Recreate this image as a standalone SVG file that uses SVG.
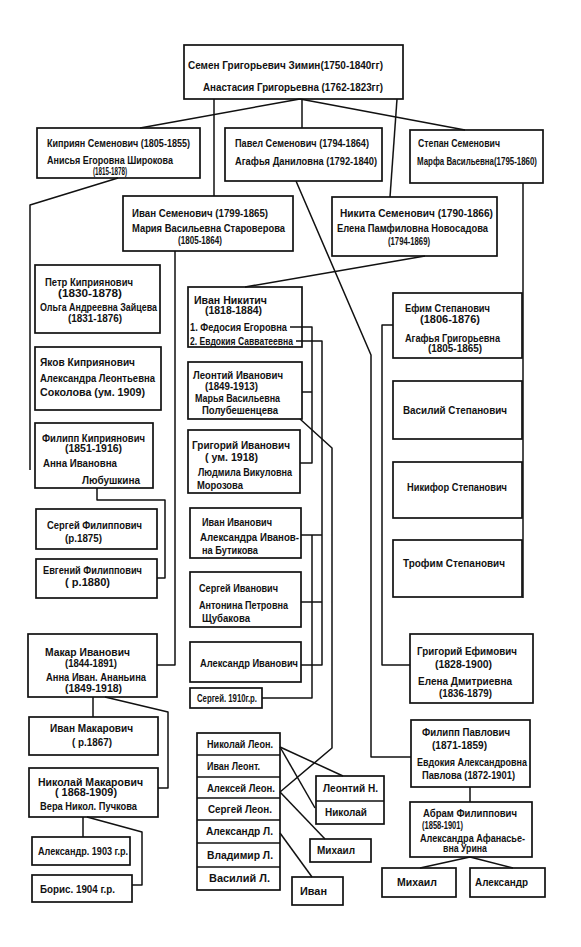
<svg xmlns="http://www.w3.org/2000/svg" width="581" height="947" viewBox="0 0 581 947">
<style>
.b{fill:none;stroke:#111;stroke-width:1.7}
.c{fill:none;stroke:#111;stroke-width:1.5;stroke-linejoin:round}
text{font-family:"Liberation Sans",Arial,sans-serif;font-weight:bold;font-size:10px;fill:#111}
.big{font-size:11px}
</style>
<rect x="0" y="0" width="581" height="947" fill="#fff"/>
<g id="connectors">
<polyline class="c" points="300,99 140,128"/>
<polyline class="c" points="214,99 214,196"/>
<polyline class="c" points="302,99 302,128"/>
<polyline class="c" points="397,99 390,197"/>
<polyline class="c" points="300,99 465,130"/>
<polyline class="c" points="118,178 30,205 30,470"/>
<polyline class="c" points="175,251 175,665 157,665"/>
<polyline class="c" points="97,488 97,500 165,500 165,578 157,578"/>
<polyline class="c" points="93,697 93,717"/>
<polyline class="c" points="105,697 168,712 168,788 158,788"/>
<polyline class="c" points="83,817 83,837"/>
<polyline class="c" points="87,817 142,832 142,885 132,885"/>
<polyline class="c" points="425,256 245,287"/>
<polyline class="c" points="296,181 371,355 371,757 411,757"/>
<polyline class="c" points="523,183 523,598"/>
<polyline class="c" points="393,325 382,325 382,665 410,665"/>
<polyline class="c" points="290,327 312,327 312,463 300,463"/>
<polyline class="c" points="302,392 312,392"/>
<polyline class="c" points="296,341 322,341 322,665 301,665"/>
<polyline class="c" points="301,535 322,535"/>
<polyline class="c" points="301,602 322,602"/>
<polyline class="c" points="312,535 312,698 262,698"/>
<polyline class="c" points="300,419 332,448 332,748 280,792"/>
<polyline class="c" points="280,747 343,776"/>
<polyline class="c" points="280,747 315,808"/>
<polyline class="c" points="280,792 325,839"/>
<polyline class="c" points="280,833 312,877"/>
<polyline class="c" points="470,787 470,802"/>
<polyline class="c" points="470,857 420,868"/>
<polyline class="c" points="470,857 513,868"/>
</g>
<g id="n-semen">
<rect class="b" x="184" y="45" width="219" height="54"/>
<text class="big" x="188" y="69" textLength="195" lengthAdjust="spacingAndGlyphs">Семен Григорьевич Зимин(1750-1840гг)</text>
<text class="big" x="203" y="91" textLength="180" lengthAdjust="spacingAndGlyphs">Анастасия Григорьевна (1762-1823гг)</text>
</g>
<g id="n-kipriyan">
<rect class="b" x="37" y="128" width="163" height="50"/>
<text x="47" y="147" textLength="143" lengthAdjust="spacingAndGlyphs">Киприян Семенович (1805-1855)</text>
<text x="47" y="164" textLength="126" lengthAdjust="spacingAndGlyphs">Анисья Егоровна Широкова</text>
<text x="93" y="175" textLength="34" lengthAdjust="spacingAndGlyphs">(1815-1878)</text>
</g>
<g id="n-pavel">
<rect class="b" x="225" y="128" width="157" height="53"/>
<text x="235" y="147" textLength="134" lengthAdjust="spacingAndGlyphs">Павел Семенович (1794-1864)</text>
<text x="235" y="165" textLength="142" lengthAdjust="spacingAndGlyphs">Агафья Даниловна (1792-1840)</text>
</g>
<g id="n-stepan">
<rect class="b" x="410" y="130" width="133" height="53"/>
<text x="418" y="147" textLength="82" lengthAdjust="spacingAndGlyphs">Степан Семенович</text>
<text x="417" y="165" textLength="120" lengthAdjust="spacingAndGlyphs">Марфа Васильевна(1795-1860)</text>
</g>
<g id="n-ivan-sem">
<rect class="b" x="123" y="196" width="170" height="55"/>
<text x="132" y="217" textLength="136" lengthAdjust="spacingAndGlyphs">Иван Семенович (1799-1865)</text>
<text x="132" y="232" textLength="153" lengthAdjust="spacingAndGlyphs">Мария Васильевна Староверова</text>
<text x="178" y="244" textLength="44" lengthAdjust="spacingAndGlyphs">(1805-1864)</text>
</g>
<g id="n-nikita">
<rect class="b" x="332" y="197" width="165" height="59"/>
<text x="340" y="217" textLength="153" lengthAdjust="spacingAndGlyphs">Никита Семенович (1790-1866)</text>
<text x="337" y="232" textLength="151" lengthAdjust="spacingAndGlyphs">Елена Памфиловна Новосадова</text>
<text x="388" y="245" textLength="42" lengthAdjust="spacingAndGlyphs">(1794-1869)</text>
</g>
<g id="n-petr">
<rect class="b" x="35" y="265" width="125" height="68"/>
<text x="45" y="286" textLength="88" lengthAdjust="spacingAndGlyphs">Петр Киприянович</text>
<text x="58" y="297" textLength="64" lengthAdjust="spacingAndGlyphs">(1830-1878)</text>
<text x="40" y="311" textLength="117" lengthAdjust="spacingAndGlyphs">Ольга Андреевна Зайцева</text>
<text x="68" y="322" textLength="54" lengthAdjust="spacingAndGlyphs">(1831-1876)</text>
</g>
<g id="n-yakov">
<rect class="b" x="35" y="347" width="126" height="63"/>
<text x="40" y="366" textLength="95" lengthAdjust="spacingAndGlyphs">Яков Киприянович</text>
<text x="40" y="382" textLength="115" lengthAdjust="spacingAndGlyphs">Александра Леонтьевна</text>
<text x="40" y="396" textLength="105" lengthAdjust="spacingAndGlyphs">Соколова (ум. 1909)</text>
</g>
<g id="n-filipp-k">
<rect class="b" x="35" y="423" width="118" height="65"/>
<text x="42" y="442" textLength="103" lengthAdjust="spacingAndGlyphs">Филипп Киприянович</text>
<text x="65" y="452" textLength="57" lengthAdjust="spacingAndGlyphs">(1851-1916)</text>
<text x="43" y="467" textLength="74" lengthAdjust="spacingAndGlyphs">Анна Ивановна</text>
<text x="82" y="484" textLength="58" lengthAdjust="spacingAndGlyphs">Любушкина</text>
</g>
<g id="n-sergei-f">
<rect class="b" x="36" y="509" width="121" height="40"/>
<text x="47" y="529" textLength="95" lengthAdjust="spacingAndGlyphs">Сергей Филиппович</text>
<text x="65" y="542" textLength="37" lengthAdjust="spacingAndGlyphs">(р.1875)</text>
</g>
<g id="n-evgeny">
<rect class="b" x="36" y="559" width="121" height="39"/>
<text x="43" y="574" textLength="99" lengthAdjust="spacingAndGlyphs">Евгений Филиппович</text>
<text x="65" y="586" textLength="45" lengthAdjust="spacingAndGlyphs">( р.1880)</text>
</g>
<g id="n-makar">
<rect class="b" x="28" y="634" width="129" height="63"/>
<text x="45" y="656" textLength="85" lengthAdjust="spacingAndGlyphs">Макар Иванович</text>
<text x="65" y="667" textLength="52" lengthAdjust="spacingAndGlyphs">(1844-1891)</text>
<text x="46" y="681" textLength="100" lengthAdjust="spacingAndGlyphs">Анна Иван. Ананьина</text>
<text x="65" y="692" textLength="57" lengthAdjust="spacingAndGlyphs">(1849-1918)</text>
</g>
<g id="n-ivan-mak">
<rect class="b" x="29" y="717" width="129" height="38"/>
<text x="50" y="732" textLength="83" lengthAdjust="spacingAndGlyphs">Иван Макарович</text>
<text x="72" y="746" textLength="40" lengthAdjust="spacingAndGlyphs">( р.1867)</text>
</g>
<g id="n-nikolai-mak">
<rect class="b" x="29" y="768" width="129" height="49"/>
<text x="38" y="786" textLength="105" lengthAdjust="spacingAndGlyphs">Николай Макарович</text>
<text x="55" y="796" textLength="62" lengthAdjust="spacingAndGlyphs">( 1868-1909)</text>
<text x="40" y="810" textLength="97" lengthAdjust="spacingAndGlyphs">Вера Никол. Пучкова</text>
</g>
<g id="n-aleksandr-1903">
<rect class="b" x="32" y="837" width="98" height="28"/>
<text x="38" y="855" textLength="90" lengthAdjust="spacingAndGlyphs">Александр. 1903 г.р.</text>
</g>
<g id="n-boris">
<rect class="b" x="32" y="875" width="100" height="27"/>
<text x="40" y="893" textLength="75" lengthAdjust="spacingAndGlyphs">Борис. 1904 г.р.</text>
</g>
<g id="n-ivan-nik">
<rect class="b" x="188" y="287" width="114" height="60"/>
<text x="194" y="304" textLength="73" lengthAdjust="spacingAndGlyphs">Иван Никитич</text>
<text x="205" y="314" textLength="57" lengthAdjust="spacingAndGlyphs">(1818-1884)</text>
<text x="190" y="331" textLength="97" lengthAdjust="spacingAndGlyphs">1. Федосия Егоровна</text>
<text x="190" y="345" textLength="103" lengthAdjust="spacingAndGlyphs">2. Евдокия Савватеевна</text>
</g>
<g id="n-leontiy">
<rect class="b" x="188" y="362" width="114" height="57"/>
<text x="193" y="379" textLength="90" lengthAdjust="spacingAndGlyphs">Леонтий Иванович</text>
<text x="205" y="390" textLength="53" lengthAdjust="spacingAndGlyphs">(1849-1913)</text>
<text x="195" y="402" textLength="85" lengthAdjust="spacingAndGlyphs">Марья Васильевна</text>
<text x="202" y="414" textLength="76" lengthAdjust="spacingAndGlyphs">Полубешенцева</text>
</g>
<g id="n-grigory-iv">
<rect class="b" x="188" y="430" width="112" height="63"/>
<text x="192" y="449" textLength="98" lengthAdjust="spacingAndGlyphs">Григорий Иванович</text>
<text x="205" y="461" textLength="53" lengthAdjust="spacingAndGlyphs">( ум. 1918)</text>
<text x="198" y="476" textLength="94" lengthAdjust="spacingAndGlyphs">Людмила Викуловна</text>
<text x="197" y="489" textLength="46" lengthAdjust="spacingAndGlyphs">Морозова</text>
</g>
<g id="n-ivan-iv">
<rect class="b" x="190" y="508" width="111" height="50"/>
<text x="202" y="526" textLength="70" lengthAdjust="spacingAndGlyphs">Иван Иванович</text>
<text x="200" y="541" textLength="99" lengthAdjust="spacingAndGlyphs">Александра Иванов-</text>
<text x="202" y="554" textLength="56" lengthAdjust="spacingAndGlyphs">на Бутикова</text>
</g>
<g id="n-sergei-iv">
<rect class="b" x="190" y="572" width="111" height="55"/>
<text x="199" y="592" textLength="79" lengthAdjust="spacingAndGlyphs">Сергей Иванович</text>
<text x="199" y="609" textLength="89" lengthAdjust="spacingAndGlyphs">Антонина Петровна</text>
<text x="202" y="622" textLength="48" lengthAdjust="spacingAndGlyphs">Щубакова</text>
</g>
<g id="n-aleksandr-iv">
<rect class="b" x="190" y="642" width="111" height="40"/>
<text x="200" y="667" textLength="98" lengthAdjust="spacingAndGlyphs">Александр Иванович</text>
</g>
<g id="n-sergei-1910">
<rect class="b" x="190" y="688" width="72" height="20"/>
<text x="197" y="702" textLength="60" lengthAdjust="spacingAndGlyphs">Сергей. 1910г.р.</text>
</g>
<g id="n-leontiy-children">
<rect class="b" x="197" y="733" width="83" height="157"/>
<polyline class="b" points="197,755 280,755"/>
<polyline class="b" points="197,777 280,777"/>
<polyline class="b" points="197,798 280,798"/>
<polyline class="b" points="197,820 280,820"/>
<polyline class="b" points="197,843 280,843"/>
<polyline class="b" points="197,867 280,867"/>
<text x="207" y="748" textLength="66" lengthAdjust="spacingAndGlyphs">Николай Леон.</text>
<text x="207" y="770" textLength="53" lengthAdjust="spacingAndGlyphs">Иван Леонт.</text>
<text x="207" y="792" textLength="68" lengthAdjust="spacingAndGlyphs">Алексей Леон.</text>
<text x="208" y="813" textLength="64" lengthAdjust="spacingAndGlyphs">Сергей Леон.</text>
<text x="206" y="835" textLength="67" lengthAdjust="spacingAndGlyphs">Александр Л.</text>
<text x="207" y="859" textLength="66" lengthAdjust="spacingAndGlyphs">Владимир Л.</text>
<text x="209" y="882" textLength="61" lengthAdjust="spacingAndGlyphs">Василий Л.</text>
</g>
<g id="n-leontiy-n">
<rect class="b" x="316" y="776" width="68" height="48"/>
<polyline class="b" points="316,801 384,801"/>
<text x="323" y="792" textLength="55" lengthAdjust="spacingAndGlyphs">Леонтий Н.</text>
<text x="325" y="816" textLength="42" lengthAdjust="spacingAndGlyphs">Николай</text>
</g>
<g id="n-mikhail-l">
<rect class="b" x="310" y="839" width="61" height="23"/>
<text x="317" y="854" textLength="38" lengthAdjust="spacingAndGlyphs">Михаил</text>
</g>
<g id="n-ivan-l">
<rect class="b" x="292" y="877" width="51" height="28"/>
<text x="300" y="895" textLength="27" lengthAdjust="spacingAndGlyphs">Иван</text>
</g>
<g id="n-efim">
<rect class="b" x="393" y="293" width="129" height="65"/>
<text x="405" y="312" textLength="85" lengthAdjust="spacingAndGlyphs">Ефим Степанович</text>
<text x="420" y="323" textLength="60" lengthAdjust="spacingAndGlyphs">(1806-1876)</text>
<text x="405" y="342" textLength="95" lengthAdjust="spacingAndGlyphs">Агафья Григорьевна</text>
<text x="428" y="352" textLength="54" lengthAdjust="spacingAndGlyphs">(1805-1865)</text>
</g>
<g id="n-vasily">
<rect class="b" x="393" y="381" width="129" height="58"/>
<text x="403" y="414" textLength="104" lengthAdjust="spacingAndGlyphs">Василий Степанович</text>
</g>
<g id="n-nikifor">
<rect class="b" x="393" y="462" width="129" height="56"/>
<text x="407" y="491" textLength="100" lengthAdjust="spacingAndGlyphs">Никифор Степанович</text>
</g>
<g id="n-trofim">
<rect class="b" x="393" y="540" width="129" height="57"/>
<text x="403" y="567" textLength="102" lengthAdjust="spacingAndGlyphs">Трофим Степанович</text>
</g>
<g id="n-grigory-ef">
<rect class="b" x="410" y="634" width="123" height="69"/>
<text x="417" y="655" textLength="100" lengthAdjust="spacingAndGlyphs">Григорий Ефимович</text>
<text x="435" y="668" textLength="57" lengthAdjust="spacingAndGlyphs">(1828-1900)</text>
<text x="418" y="685" textLength="94" lengthAdjust="spacingAndGlyphs">Елена Дмитриевна</text>
<text x="439" y="697" textLength="53" lengthAdjust="spacingAndGlyphs">(1836-1879)</text>
</g>
<g id="n-filipp-pav">
<rect class="b" x="411" y="720" width="119" height="67"/>
<text x="422" y="736" textLength="88" lengthAdjust="spacingAndGlyphs">Филипп Павлович</text>
<text x="432" y="749" textLength="55" lengthAdjust="spacingAndGlyphs">(1871-1859)</text>
<text x="417" y="766" textLength="110" lengthAdjust="spacingAndGlyphs">Евдокия Александровна</text>
<text x="422" y="779" textLength="93" lengthAdjust="spacingAndGlyphs">Павлова (1872-1901)</text>
</g>
<g id="n-abram">
<rect class="b" x="410" y="802" width="122" height="55"/>
<text x="423" y="817" textLength="94" lengthAdjust="spacingAndGlyphs">Абрам Филиппович</text>
<text x="422" y="829" textLength="41" lengthAdjust="spacingAndGlyphs">(1858-1901)</text>
<text x="420" y="842" textLength="105" lengthAdjust="spacingAndGlyphs">Александра Афанасье-</text>
<text x="443" y="852" textLength="44" lengthAdjust="spacingAndGlyphs">вна Урина</text>
</g>
<g id="n-mikhail-a">
<rect class="b" x="382" y="868" width="74" height="29"/>
<text x="397" y="886" textLength="40" lengthAdjust="spacingAndGlyphs">Михаил</text>
</g>
<g id="n-aleksandr-a">
<rect class="b" x="470" y="868" width="75" height="29"/>
<text x="475" y="886" textLength="53" lengthAdjust="spacingAndGlyphs">Александр</text>
</g>
</svg>
